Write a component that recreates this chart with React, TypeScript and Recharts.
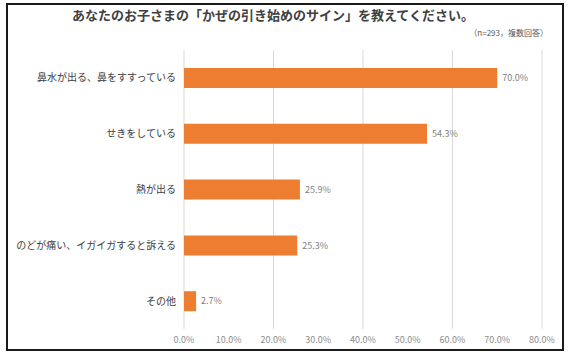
import React from "react";
import { BarChart, Bar, XAxis, YAxis, CartesianGrid, LabelList } from "recharts";

const categories = [
  "鼻水が出る、鼻をすすっている",
  "せきをしている",
  "熱が出る",
  "のどが痛い、イガイガすると訴える",
  "その他",
];
const shares = [0.7, 0.543, 0.259, 0.253, 0.027];
const xTicks = [0, 0.1, 0.2, 0.3, 0.4, 0.5, 0.6, 0.7, 0.8];

const FONT = '"Noto Sans CJK JP", "Noto Sans", sans-serif';
const pct = (v: any) => `${(Number(v) * 100).toFixed(1)}%`;

export default function App() {
  const data = categories.map((name, i) => ({ name, value: shares[i] }));

  return (
    <div
      style={{
        position: "fixed",
        left: 0,
        top: 0,
        width: 570,
        height: 356,
        background: "#fff",
        fontFamily: FONT,
      }}
    >
      <BarChart
        width={570}
        height={356}
        data={data}
        layout="vertical"
        margin={{ top: 50, right: 28, bottom: 0, left: 0 }}
        barCategoryGap={0}
      >
        <CartesianGrid horizontal={false} stroke="#d9d9d9" />
        <XAxis
          type="number"
          domain={[0, 0.8]}
          ticks={xTicks}
          tickFormatter={pct}
          axisLine={false}
          tickLine={false}
          height={27}
          tick={{ fontSize: 9, fill: "#8c8c8c", fontFamily: FONT }}
        />
        <YAxis
          type="category"
          dataKey="name"
          width={184}
          axisLine={false}
          tickLine={false}
          tick={{ fontSize: 10, fill: "#404040", fontFamily: FONT }}
        />
        <Bar dataKey="value" fill="#ED7D31" barSize={20} isAnimationActive={false}>
          <LabelList
            dataKey="value"
            position="right"
            formatter={pct}
            style={{ fontSize: 9, fill: "#7f7f7f", fontFamily: FONT }}
          />
        </Bar>
      </BarChart>

      <div
        style={{
          position: "absolute",
          left: 0,
          width: 546,
          top: 6,
          textAlign: "center",
          fontSize: 13,
          fontWeight: 700,
          color: "#404040",
          lineHeight: "18px",
        }}
      >
        あなたのお子さまの「かぜの引き始めのサイン」を教えてください。
      </div>
      <div
        style={{
          position: "absolute",
          right: 22,
          top: 27,
          fontSize: 8,
          color: "#595959",
          lineHeight: "12px",
        }}
      >
        （n=293，複数回答）
      </div>
      <div
        style={{
          position: "absolute",
          left: 6,
          top: 3,
          width: 558,
          height: 348,
          border: "2px solid #1a1a1a",
          boxSizing: "border-box",
          pointerEvents: "none",
        }}
      />
    </div>
  );
}
